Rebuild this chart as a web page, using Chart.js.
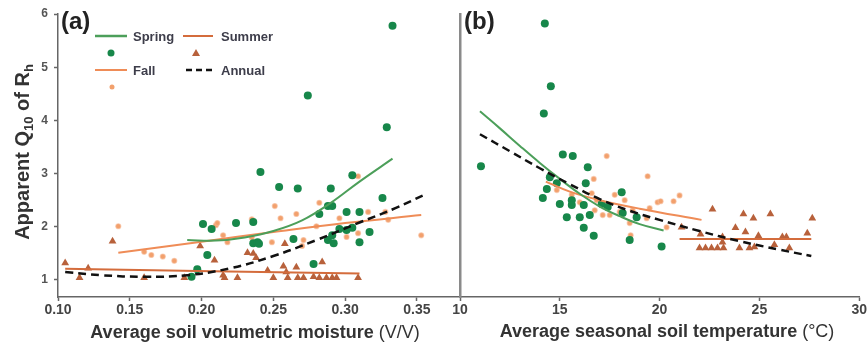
<!DOCTYPE html>
<html><head><meta charset="utf-8">
<script src="https://cdn.jsdelivr.net/npm/chart.js@4.4.1/dist/chart.umd.min.js"></script>
<style>
html,body{margin:0;padding:0;background:#fff;}
#wrap{position:relative;width:868px;height:343px;background:#fff;}
canvas{position:absolute;left:0;top:0;}
</style></head><body>
<div id="wrap"><canvas id="ca" width="868" height="343"></canvas><canvas id="cb" width="868" height="343"></canvas></div>
<script>
// ---------- DATA ----------
const yTicks = [1, 2, 3, 4, 5, 6];
const xTicksA = [0.10, 0.15, 0.20, 0.25, 0.30, 0.35];
const xTicksB = [10, 15, 20, 25, 30];

// Panel (a): Q10 vs soil moisture
const springA = [[0.193,1.06],[0.197,1.2],[0.201,2.05],[0.204,1.47],[0.207,1.96],[0.224,2.07],[0.236,2.09],[0.241,3.03],[0.236,1.69],[0.239,1.71],[0.240,1.68],[0.254,2.75],[0.264,1.77],[0.267,2.72],[0.274,4.47],[0.278,1.30],[0.282,2.24],[0.288,2.39],[0.291,2.39],[0.290,2.72],[0.288,1.75],[0.291,1.84],[0.292,1.69],[0.296,1.96],[0.301,2.28],[0.305,1.98],[0.301,1.94],[0.305,2.97],[0.310,1.71],[0.310,2.28],[0.317,1.90],[0.326,2.54],[0.329,3.87],[0.333,5.78]];
const summerA = [[0.105,1.32],[0.115,1.04],[0.121,1.22],[0.138,1.73],[0.160,1.04],[0.188,1.04],[0.199,1.64],[0.209,1.37],[0.215,1.09],[0.216,1.04],[0.225,1.04],[0.232,1.51],[0.236,1.50],[0.238,1.42],[0.246,1.18],[0.250,1.04],[0.257,1.26],[0.258,1.68],[0.259,1.15],[0.260,1.04],[0.266,1.24],[0.267,1.04],[0.271,1.04],[0.278,1.06],[0.282,1.04],[0.284,1.34],[0.287,1.04],[0.291,1.04],[0.294,1.04],[0.309,1.04]];
const fallA = [[0.142,2.01],[0.160,1.53],[0.165,1.47],[0.173,1.44],[0.181,1.36],[0.210,2.03],[0.211,2.07],[0.215,1.84],[0.218,1.71],[0.235,2.14],[0.235,1.80],[0.249,1.71],[0.251,2.39],[0.255,2.16],[0.266,2.24],[0.270,1.64],[0.271,1.75],[0.280,2.01],[0.282,2.45],[0.296,2.16],[0.301,1.81],[0.309,2.95],[0.309,1.88],[0.316,2.28],[0.328,2.28],[0.330,2.13],[0.353,1.84]];
const springFitA = [[0.19,1.75],[0.21,1.74],[0.23,1.8],[0.25,1.92],[0.27,2.12],[0.29,2.45],[0.31,2.85],[0.333,3.28]];
const summerFitA = [[0.105,1.21],[0.31,1.12]];
const fallFitA = [[0.142,1.51],[0.20,1.72],[0.25,1.9],[0.30,2.07],[0.353,2.22]];
const annualFitA = [[0.105,1.15],[0.13,1.09],[0.16,1.06],[0.19,1.09],[0.22,1.22],[0.25,1.45],[0.28,1.75],[0.31,2.08],[0.335,2.35],[0.355,2.6]];

// Panel (b): Q10 vs soil temperature
const springB = [[11.05,3.14],[14.25,5.82],[14.55,4.64],[14.2,4.13],[15.15,3.36],[15.65,3.33],[16.4,3.12],[14.5,2.93],[14.85,2.82],[16.3,2.82],[14.35,2.71],[14.15,2.54],[15.0,2.43],[15.6,2.5],[15.6,2.41],[16.2,2.41],[16.5,2.22],[15.35,2.18],[16.0,2.18],[16.2,1.98],[16.7,1.83],[17.1,2.43],[17.4,2.37],[18.1,2.65],[18.15,2.26],[18.5,1.75],[18.85,2.18],[20.1,1.63]];
const fallB = [[14.85,2.69],[15.6,2.6],[16.0,2.46],[16.6,2.63],[16.7,2.9],[16.85,2.5],[16.75,2.31],[17.15,2.22],[17.35,3.33],[17.5,2.22],[17.75,2.6],[18.0,2.28],[18.25,2.5],[18.5,2.07],[18.55,1.84],[18.65,2.31],[19.35,2.16],[19.4,2.95],[19.5,2.35],[19.9,2.46],[20.05,2.48],[20.7,2.48],[21.0,2.59],[20.35,1.99]];
const summerB = [[21.1,1.99],[22.65,2.33],[24.2,2.24],[24.7,2.16],[25.55,2.24],[27.65,2.16],[23.8,1.98],[24.3,1.9],[24.95,1.83],[26.15,1.81],[26.35,1.81],[27.4,1.88],[22.05,1.86],[23.15,1.81],[22.0,1.6],[22.3,1.6],[22.6,1.6],[22.9,1.6],[23.2,1.6],[24.0,1.6],[23.15,1.71],[24.5,1.6],[24.75,1.62],[25.75,1.66],[26.5,1.6]];
const springFitB = [[11,4.17],[12,3.85],[13,3.52],[14,3.2],[15,2.9],[16,2.62],[17,2.38],[18,2.2],[19,2.05],[20.2,1.93]];
const fallFitB = [[14.3,2.85],[15.5,2.66],[17,2.5],[19,2.34],[22.1,2.13]];
const summerFitB = [[21.0,1.77],[27.6,1.77]];
const annualFitB = [[11,3.74],[12.5,3.42],[14,3.1],[15.5,2.8],[17,2.52],[18.5,2.3],[20,2.13],[22,1.92],[24,1.73],[26,1.57],[27.6,1.45]];

// ---------- STYLE ----------
const FONT = "'Liberation Sans', Arial, sans-serif";
const SPRING_DOT = '#17874a', SPRING_LINE = '#4c9f5a';
const SUMMER_TRI = '#b8613b', SUMMER_LINE = '#d46c3c';
const FALL_DOT = '#f2a06c', FALL_LINE = '#ef8c57';
const AXIS = '#666';
Chart.defaults.font.family = FONT;

const pts = a => a.map(p => ({x: p[0], y: p[1]}));

function fitSet(data, color, dash, width) {
  return {data: pts(data), showLine: true, borderColor: color, borderWidth: width || 2,
    borderDash: dash || [], pointRadius: 0, tension: 0.4, fill: false, order: 0};
}
function dotSet(data, style, radius, color, border) {
  return {data: pts(data), showLine: false, pointStyle: style, pointRadius: radius,
    backgroundColor: color, borderColor: border || color, borderWidth: border ? 1.2 : 0, order: 1};
}
function datasets(spring, summer, fall, sFit, suFit, fFit, aFit) {
  return [
    fitSet(aFit, '#111', [8, 5], 2.5),
    fitSet(sFit, SPRING_LINE, null, 2),
    fitSet(suFit, SUMMER_LINE, null, 2),
    fitSet(fFit, FALL_LINE, null, 2),
    dotSet(spring, 'circle', 4, SPRING_DOT),
    dotSet(summer, 'triangle', 4.5, SUMMER_TRI),
    dotSet(fall, 'circle', 2.5, FALL_DOT, 'rgba(246,185,150,0.6)')
  ];
}

function yScale(showLabels) {
  return {
    type: 'linear', min: 0.68, max: 6,
    afterBuildTicks: s => { s.ticks = yTicks.map(v => ({value: v})); },
    afterFit: s => { s.width = showLabels ? 58 : 460; },
    ticks: {display: showLabels, padding: 6, color: '#555', font: {size: 12, weight: 'bold'}},
    grid: {drawOnChartArea: false, drawTicks: showLabels, tickLength: 4, color: AXIS, tickWidth: 1.5},
    border: {display: true, color: showLabels ? AXIS : '#8a8a8a', width: showLabels ? 1.5 : 2.5}
  };
}
function xScale(min, max, ticks, fmt) {
  return {
    type: 'linear', min: min, max: max,
    afterBuildTicks: s => { s.ticks = ticks.map(v => ({value: v})); },
    afterFit: s => { s.height = 46; },
    ticks: {padding: 1, color: '#444', font: {size: 14, weight: 'bold'}, callback: fmt, maxRotation: 0},
    grid: {drawOnChartArea: false, drawTicks: true, tickLength: 4, color: AXIS, tickWidth: 1.5},
    border: {display: true, color: AXIS, width: 1.5}
  };
}

function drawMixed(ctx, parts, x, y, align) {
  let total = 0;
  parts.forEach(p => { ctx.font = p.w + ' ' + p.s + 'px ' + FONT; total += ctx.measureText(p.t).width; });
  let cx = align === 'center' ? x - total / 2 : x;
  parts.forEach(p => {
    ctx.font = p.w + ' ' + p.s + 'px ' + FONT;
    ctx.fillText(p.t, cx, y + (p.dy || 0));
    cx += ctx.measureText(p.t).width;
  });
}

const decorA = {
  id: 'decorA',
  afterDraw(chart) {
    const ctx = chart.ctx;
    ctx.save();
    ctx.fillStyle = '#222';
    ctx.textBaseline = 'alphabetic';
    ctx.font = 'bold 24px ' + FONT;
    ctx.fillText('(a)', 61, 29);
    // x title
    ctx.fillStyle = '#333';
    drawMixed(ctx, [{t: 'Average soil volumetric moisture ', s: 18, w: 'bold'}, {t: '(V/V)', s: 18, w: 'normal'}], 255, 338, 'center');
    // y title
    ctx.save();
    ctx.translate(29, 152);
    ctx.rotate(-Math.PI / 2);
    drawMixed(ctx, [{t: 'Apparent Q', s: 20, w: 'bold'}, {t: '10', s: 13, w: 'bold', dy: 4}, {t: ' of R', s: 20, w: 'bold'}, {t: 'h', s: 13, w: 'bold', dy: 4}], 0, 0, 'center');
    ctx.restore();
    // legend
    ctx.font = 'bold 13px ' + FONT;
    ctx.fillStyle = '#3d3d4a';
    ctx.textBaseline = 'middle';
    const line = (x1, y, x2, c, w, dash) => {
      ctx.save(); ctx.beginPath(); ctx.strokeStyle = c; ctx.lineWidth = w; ctx.setLineDash(dash || []);
      ctx.moveTo(x1, y); ctx.lineTo(x2, y); ctx.stroke(); ctx.restore();
    };
    line(95, 36, 127, SPRING_LINE, 2.5);
    ctx.fillText('Spring', 133, 37);
    line(183, 36, 213, SUMMER_LINE, 2);
    ctx.fillText('Summer', 221, 37);
    line(95, 70, 127, FALL_LINE, 2);
    ctx.fillText('Fall', 133, 71);
    line(186, 70, 214, '#111', 2.5, [6, 4]);
    ctx.fillText('Annual', 221, 71);
    ctx.beginPath(); ctx.fillStyle = SPRING_DOT; ctx.arc(111, 53, 3.5, 0, Math.PI * 2); ctx.fill();
    ctx.beginPath(); ctx.fillStyle = SUMMER_TRI; ctx.moveTo(196, 49); ctx.lineTo(200, 56); ctx.lineTo(192, 56); ctx.closePath(); ctx.fill();
    ctx.beginPath(); ctx.fillStyle = FALL_DOT; ctx.arc(112, 87, 2.5, 0, Math.PI * 2); ctx.fill();
    ctx.restore();
  }
};
const decorB = {
  id: 'decorB',
  afterDraw(chart) {
    const ctx = chart.ctx;
    ctx.save();
    ctx.fillStyle = '#222';
    ctx.textBaseline = 'alphabetic';
    ctx.font = 'bold 24px ' + FONT;
    ctx.fillText('(b)', 464, 29);
    ctx.fillStyle = '#333';
    drawMixed(ctx, [{t: 'Average seasonal soil temperature ', s: 18, w: 'bold'}, {t: '(°C)', s: 18, w: 'normal'}], 667, 337, 'center');
    ctx.restore();
  }
};

const common = {
  responsive: false, animation: false,
  plugins: {legend: {display: false}, tooltip: {enabled: false}}
};

new Chart(document.getElementById('ca'), {
  type: 'scatter',
  data: {datasets: datasets(springA, summerA, fallA, springFitA, summerFitA, fallFitA, annualFitA)},
  options: Object.assign({}, common, {
    layout: {padding: {top: 14, right: 408, left: 0, bottom: 0}},
    scales: {x: xScale(0.10, 0.38, xTicksA, v => Number(v).toFixed(2)), y: yScale(true)}
  }),
  plugins: [decorA]
});
new Chart(document.getElementById('cb'), {
  type: 'scatter',
  data: {datasets: datasets(springB, summerB, fallB, springFitB, summerFitB, fallFitB, annualFitB)},
  options: Object.assign({}, common, {
    layout: {padding: {top: 14, right: 8, left: 0, bottom: 0}},
    scales: {x: xScale(10, 30, xTicksB, v => String(v)), y: yScale(false)}
  }),
  plugins: [decorB]
});
</script>
</body></html>
